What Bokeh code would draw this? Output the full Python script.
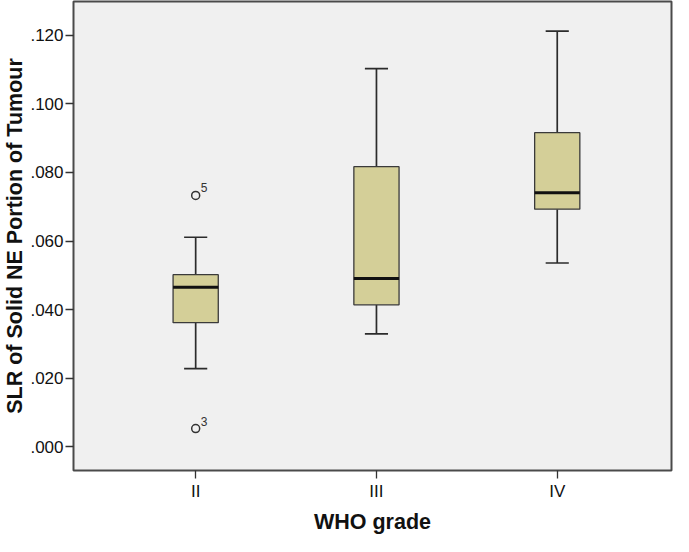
from bokeh.plotting import figure
from bokeh.models import ColumnDataSource, FixedTicker, CustomJSTickFormatter, Range1d
from bokeh.embed import file_html
from bokeh.resources import INLINE
from bokeh.core.properties import value

# ---- data ----
categories = ["II", "III", "IV"]
q1 = [0.0362, 0.0414, 0.0693]
median = [0.0465, 0.0491, 0.0741]
q3 = [0.0502, 0.0817, 0.0916]
whisker_low = [0.0228, 0.0329, 0.0536]
whisker_high = [0.0611, 0.1103, 0.1212]
outlier_cat = ["II", "II"]
outlier_val = [0.0733, 0.0053]
outlier_lbl = ["5", "3"]
y_ticks = [0.0, 0.02, 0.04, 0.06, 0.08, 0.10, 0.12]

FONT = "Liberation Sans"
pos = {c: i + 1 for i, c in enumerate(categories)}
xs = [pos[c] for c in categories]
box_w = 0.25
cap_w = 0.128

p = figure(width=673, height=536, output_backend="svg", toolbar_location=None,
           x_range=Range1d(0.3242, 3.632), y_range=Range1d(-0.00693, 0.12987),
           min_border_left=69, min_border_right=2, min_border_top=1, min_border_bottom=61)
p.background_fill_color = "#f0f0f0"
p.border_fill_color = "white"
p.outline_line_color = "#4a4a4a"
p.outline_line_width = 2
p.xgrid.visible = False
p.ygrid.visible = False

src = ColumnDataSource(dict(
    x=xs, q1=q1, med=median, q3=q3, lo=whisker_low, hi=whisker_high,
    left=[x - box_w / 2 for x in xs], right=[x + box_w / 2 for x in xs],
    cl=[x - cap_w / 2 for x in xs], cr=[x + cap_w / 2 for x in xs],
))

# whiskers
p.segment(x0="x", y0="q3", x1="x", y1="hi", source=src, line_color="#2b2b2b", line_width=1.7)
p.segment(x0="x", y0="q1", x1="x", y1="lo", source=src, line_color="#2b2b2b", line_width=1.7)
# caps
p.segment(x0="cl", y0="hi", x1="cr", y1="hi", source=src, line_color="#2b2b2b", line_width=1.7)
p.segment(x0="cl", y0="lo", x1="cr", y1="lo", source=src, line_color="#2b2b2b", line_width=1.7)
# boxes
p.quad(left="left", right="right", bottom="q1", top="q3", source=src,
       fill_color="#d4cf98", line_color="#3a3a3a", line_width=1.3)
# medians
p.segment(x0="left", y0="med", x1="right", y1="med", source=src, line_color="#111111", line_width=3)

# outliers
osrc = ColumnDataSource(dict(x=[pos[c] for c in outlier_cat], y=outlier_val, t=outlier_lbl))
p.scatter(x="x", y="y", source=osrc, marker="circle", size=8, fill_color=None,
          line_color="#333333", line_width=1.5)
p.text(x="x", y="y", text="t", source=osrc, x_offset=5, y_offset=-3,
       text_font=value(FONT), text_font_size="12px", text_color="#333333",
       text_baseline="bottom", text_align="left")

# axes
p.xaxis.ticker = FixedTicker(ticks=xs)
p.xaxis.major_label_overrides = {pos[c]: c for c in categories}
p.yaxis.ticker = FixedTicker(ticks=y_ticks)
p.yaxis.formatter = CustomJSTickFormatter(code="return tick.toFixed(3).replace(/^0/, '');")

for ax in (p.xaxis[0], p.yaxis[0]):
    ax.axis_line_color = None
    ax.major_tick_line_color = "#333333"
    ax.major_tick_line_width = 1.3
    ax.major_tick_in = 0
    ax.major_tick_out = 8
    ax.minor_tick_line_color = None
    ax.major_label_text_font = FONT
    ax.major_label_text_font_size = "17px"
    ax.major_label_text_color = "#111111"
    ax.axis_label_text_font = FONT
    ax.axis_label_text_font_size = "21.5px"
    ax.axis_label_text_font_style = "bold"
    ax.axis_label_text_color = "#111111"

p.xaxis.axis_label = "WHO grade"
p.yaxis.axis_label = "SLR of Solid NE Portion of Tumour"
p.xaxis.major_label_standoff = 3
p.yaxis.major_label_standoff = 2
p.xaxis.axis_label_standoff = 6
p.yaxis.axis_label_standoff = 0

open("out.html", "w").write(file_html(p, INLINE))
